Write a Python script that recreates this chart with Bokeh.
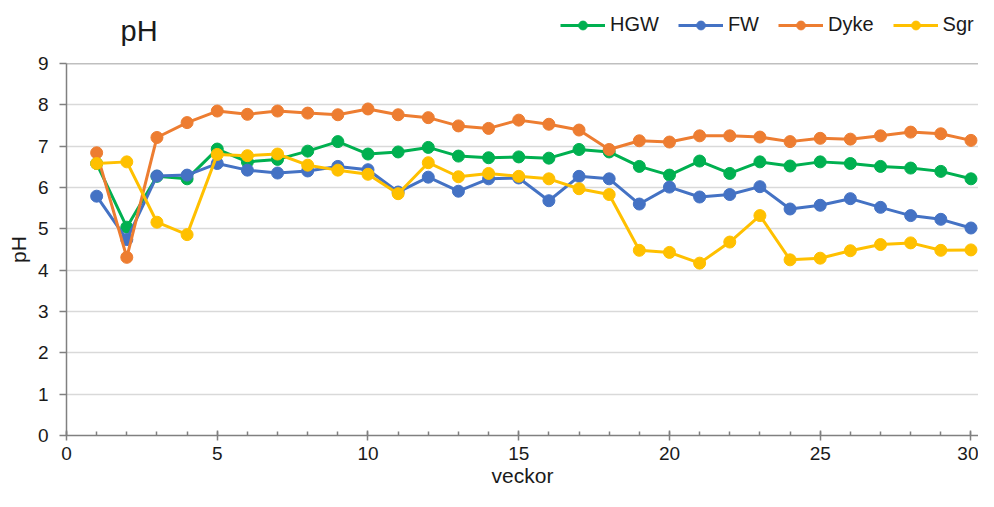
from bokeh.plotting import figure
from bokeh.layouts import column
from bokeh.models import Range1d, SingleIntervalTicker, Span, Label, Legend, LegendItem
from bokeh.embed import file_html
from bokeh.resources import INLINE

weeks = list(range(1, 31))
hgw = [6.58, 5.04, 6.27, 6.21, 6.93, 6.62, 6.68, 6.88, 7.11, 6.81,
       6.86, 6.97, 6.76, 6.72, 6.74, 6.71, 6.92, 6.86, 6.51, 6.30,
       6.64, 6.34, 6.62, 6.52, 6.62, 6.58, 6.51, 6.47, 6.39, 6.21]
fw = [5.79, 4.74, 6.28, 6.30, 6.58, 6.42, 6.35, 6.40, 6.51, 6.43,
      5.89, 6.25, 5.91, 6.21, 6.23, 5.68, 6.27, 6.21, 5.60, 6.01,
      5.77, 5.83, 6.02, 5.48, 5.57, 5.73, 5.52, 5.32, 5.23, 5.02]
dyke = [6.84, 4.31, 7.21, 7.57, 7.85, 7.77, 7.85, 7.80, 7.76, 7.90,
        7.76, 7.69, 7.49, 7.43, 7.63, 7.53, 7.39, 6.92, 7.13, 7.10,
        7.25, 7.25, 7.22, 7.11, 7.19, 7.17, 7.25, 7.34, 7.30, 7.14]
sgr = [6.58, 6.62, 5.16, 4.86, 6.80, 6.77, 6.81, 6.54, 6.42, 6.32,
       5.85, 6.60, 6.26, 6.34, 6.27, 6.21, 5.97, 5.83, 4.48, 4.43,
       4.17, 4.68, 5.32, 4.25, 4.29, 4.47, 4.62, 4.66, 4.48, 4.49]

series = [("HGW", hgw, "#00B050"), ("FW", fw, "#4472C4"),
          ("Dyke", dyke, "#ED7D31"), ("Sgr", sgr, "#FFC000")]

FONT = "Liberation Sans"
TXT = "#1a1a1a"
AX = "#808080"
W = 978
HH = 46   # header height (title + legend)
MH = 445  # main chart height

# ---- header: title and legend (legend renderers lie outside its ranges) ----
h = figure(width=W, height=HH, output_backend="svg", toolbar_location=None,
           x_range=Range1d(-10, -9), y_range=Range1d(0, 1),
           min_border_left=0, min_border_right=0, min_border_top=0, min_border_bottom=0)
h.axis.visible = False
h.grid.visible = False
h.outline_line_color = None

hitems = []
for name, vals, col in series:
    r1 = h.line(weeks, vals, line_color=col, line_width=3)
    r2 = h.scatter(weeks, vals, size=10, fill_color=col, line_color=col)
    hitems.append(LegendItem(label=name, renderers=[r1, r2]))

leg = Legend(items=hitems, orientation="horizontal", location=(494, 10),
             label_text_font=FONT, label_text_font_size="20px", label_text_color=TXT,
             glyph_width=45, glyph_height=22, label_height=22, label_standoff=5,
             spacing=19, padding=0, margin=0, border_line_color=None,
             background_fill_alpha=0)
h.add_layout(leg, "center")

h.add_layout(Label(x=54, y=16, x_units="screen", y_units="screen", text="pH",
                   text_font=FONT, text_font_size="29px", text_color=TXT,
                   text_baseline="middle"))

# ---- main chart ----
p = figure(width=W, height=MH, output_backend="svg", toolbar_location=None,
           x_range=Range1d(0, 30.25), y_range=Range1d(0, 9),
           min_border_left=66, min_border_right=0, min_border_top=63 - HH,
           min_border_bottom=56)
p.outline_line_color = None

for name, vals, col in series:
    p.line(weeks, vals, line_color=col, line_width=3)
    p.scatter(weeks, vals, size=12, fill_color=col, line_color=col)

p.add_layout(Span(location=9, dimension="width", line_color=AX, line_width=1.5))

xa = p.xaxis[0]
xa.ticker = SingleIntervalTicker(interval=5, num_minor_ticks=5)
xa.axis_label = "veckor"
xa.axis_label_text_font = FONT
xa.axis_label_text_font_size = "21px"
xa.axis_label_text_font_style = "normal"
xa.axis_label_text_color = TXT
xa.axis_label_standoff = 1
xa.major_label_text_font = FONT
xa.major_label_text_font_size = "19px"
xa.major_label_text_color = TXT
xa.major_label_standoff = 6
xa.axis_line_color = AX
xa.axis_line_width = 1.5
xa.major_tick_line_color = AX
xa.major_tick_line_width = 1.5
xa.major_tick_in = 5
xa.major_tick_out = 5
xa.minor_tick_line_color = AX
xa.minor_tick_line_width = 1.5
xa.minor_tick_in = 4
xa.minor_tick_out = 0

ya = p.yaxis[0]
ya.ticker = SingleIntervalTicker(interval=1, num_minor_ticks=0)
ya.axis_label = "pH"
ya.axis_label_text_font = FONT
ya.axis_label_text_font_size = "21px"
ya.axis_label_text_font_style = "normal"
ya.axis_label_text_color = TXT
ya.axis_label_standoff = 5
ya.major_label_text_font = FONT
ya.major_label_text_font_size = "19px"
ya.major_label_text_color = TXT
ya.major_label_standoff = 11
ya.axis_line_color = AX
ya.axis_line_width = 1.5
ya.major_tick_line_color = AX
ya.major_tick_line_width = 1.5
ya.major_tick_in = 0
ya.major_tick_out = 7
ya.minor_tick_line_color = None

p.xgrid.grid_line_color = None
p.ygrid.grid_line_color = "#D9D9D9"
p.ygrid.grid_line_width = 1.5

layout = column(h, p, spacing=0)
open("out.html", "w").write(file_html(layout, INLINE))
